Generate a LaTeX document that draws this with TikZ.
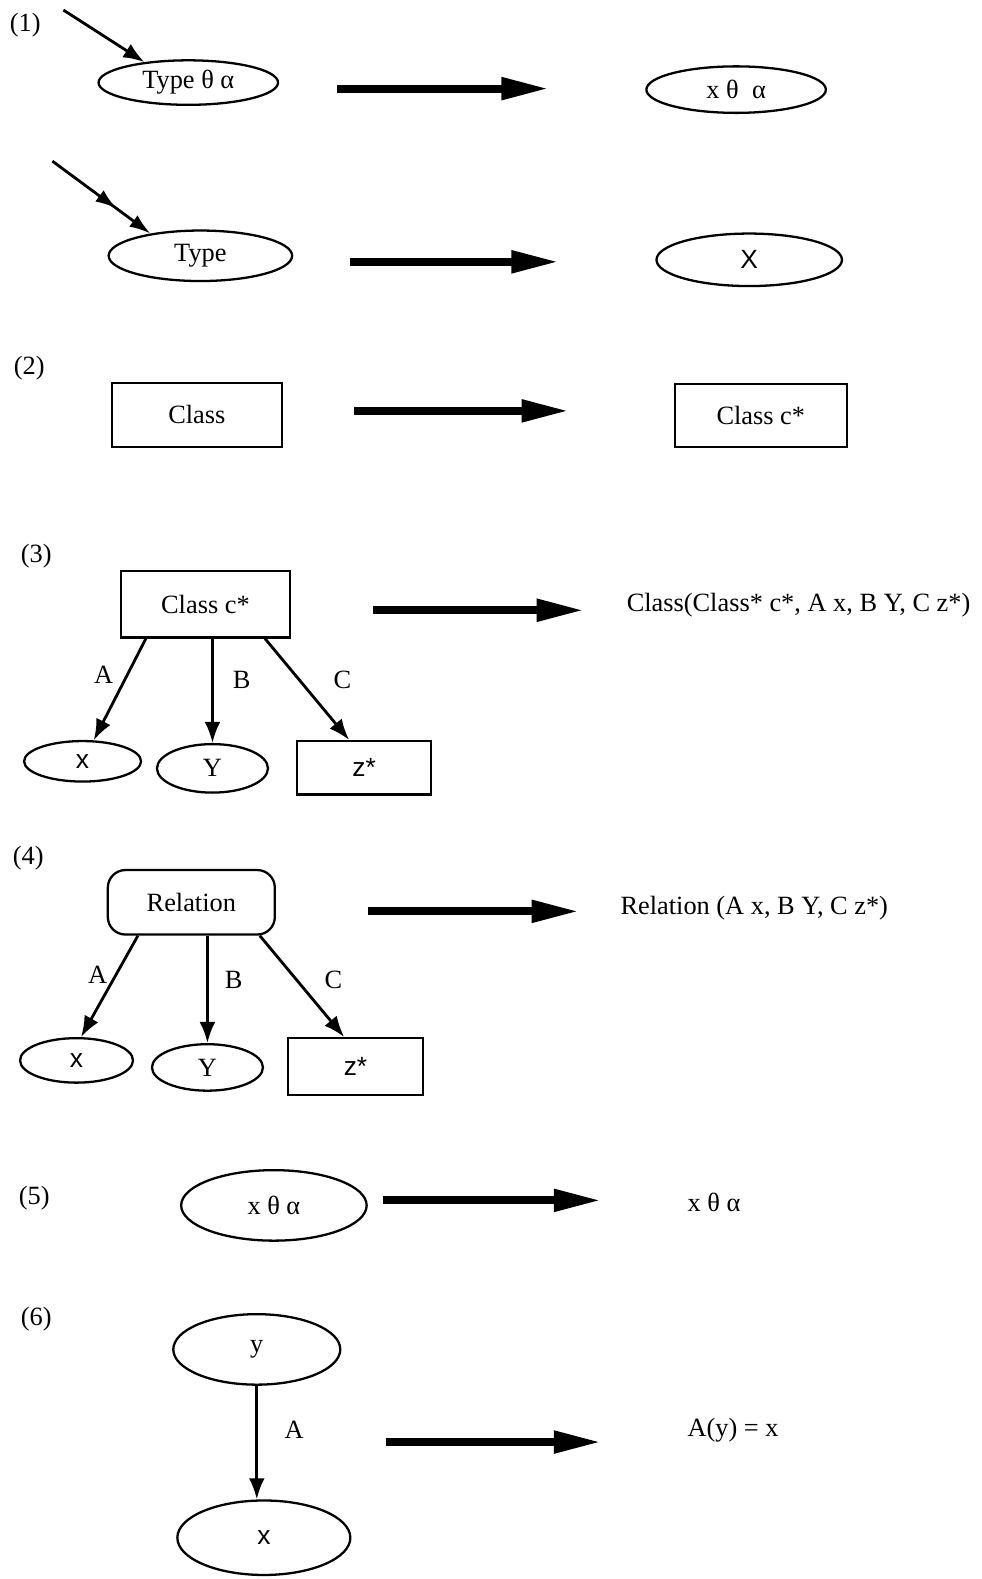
\documentclass[tikz,border=0pt]{standalone}
\usepackage{fontspec}
\setmainfont{Liberation Serif}
\setsansfont{Liberation Sans}
\usetikzlibrary{shapes.geometric,arrows.meta}

\begin{document}
\begin{tikzpicture}[x=0.02014cm, y=-0.02014cm, >={Latex[length=12pt,width=9pt]},
	font=\fontsize{15}{18}\selectfont,
	oval/.style={draw, ellipse, line width=1.3pt, inner sep=0pt},
	box/.style={draw, rectangle, line width=1.3pt, inner sep=0pt},
	roundbox/.style={box, rounded corners=10pt},
	bigarrow/.style={line width=4.5pt, -{Triangle[length=27pt,width=12pt]}},
	link/.style={line width=1.6pt, ->}]
	\useasboundingbox (0,0) rectangle (975,1568);
	% (1)
	\node (lab1) at (25,25) {(1)};
	\node[oval, minimum width=3.59cm, minimum height=0.89cm] (type1) at (187,82) {Type θ α};
	\node[oval, minimum width=3.59cm, minimum height=0.93cm] (xta1) at (731,89) {x θ\ \ α};
	\node[oval, minimum width=3.67cm, minimum height=1.01cm] (type2) at (199,254) {Type};
	\node[oval, minimum width=3.71cm, minimum height=1.05cm] (X2) at (744,258) {\sffamily X};
	\coordinate (in1) at (63,10);
	\coordinate (in2) at (52,160);
	\draw[link] (in1) -- (type1.155);
	\draw[line width=1.6pt, -{Latex[length=12pt,width=8pt,sep=12pt]Latex[length=12pt,width=8pt]}] (in2) -- (type2.156);
	\coordinate (s1) at (335,88); \coordinate (e1) at (545,88);
	\coordinate (s2) at (348,260); \coordinate (e2) at (555,260);
	\draw[bigarrow] (s1) -- (e1);
	\draw[bigarrow] (s2) -- (e2);
	% (2)
	\node (lab2) at (29,366) {(2)};
	\node[box, minimum width=3.40cm, minimum height=1.29cm] (cls2) at (195.5,412) {Class};
	\node[box, minimum width=3.44cm, minimum height=1.27cm] (clsc2) at (755.5,412.5) {Class c*};
	\coordinate (s3) at (352,408); \coordinate (e3) at (565,408);
	\draw[bigarrow] (s3) -- (e3);
	% (3)
	\node (lab3) at (36,552) {(3)};
	\node[box, minimum width=3.38cm, minimum height=1.33cm] (cls3) at (204,600) {Class c*};
	\node[oval, minimum width=2.34cm, minimum height=0.81cm] (x3) at (82,756) {\sffamily x};
	\node[oval, minimum width=2.22cm, minimum height=0.97cm] (y3) at (211,763) {Y};
	\node[box, minimum width=2.68cm, minimum height=1.07cm] (z3) at (361.5,762.5) {\sffamily z*};
	\node (out3) at (793,601) {Class(Class* c*, A x, B Y, C z*)};
	\draw[link] (cls3.-150) -- (x3.62);
	\draw[link] (cls3.south -| y3.north) -- (y3.north);
	\draw[link] (cls3.-30) -- (z3.118);
	\node (a3) at (103,670) {A};
	\node (b3) at (240,675) {B};
	\node (c3) at (340,675) {C};
	\coordinate (s4) at (370,606); \coordinate (e4) at (580,606);
	\draw[bigarrow] (s4) -- (e4);
	% (4)
	\node (lab4) at (28,852) {(4)};
	\node[roundbox, minimum width=3.34cm, minimum height=1.29cm] (rel4) at (190,896) {Relation};
	\node[oval, minimum width=2.26cm, minimum height=0.89cm] (x4) at (76,1053) {\sffamily x};
	\node[oval, minimum width=2.22cm, minimum height=0.93cm] (y4) at (206,1060) {Y};
	\node[box, minimum width=2.70cm, minimum height=1.13cm] (z4) at (353,1059) {\sffamily z*};
	\node (out4) at (749,902) {Relation (A x, B Y, C z*)};
	\draw[link] (rel4.-148) -- (x4.79);
	\draw[link] (rel4.south -| y4.north) -- (y4.north);
	\draw[link] (rel4.-26) -- (z4.111);
	\node (a4) at (97,968) {A};
	\node (b4) at (232,973) {B};
	\node (c4) at (331,973) {C};
	\coordinate (s5) at (365,905); \coordinate (e5) at (575,905);
	\draw[bigarrow] (s5) -- (e5);
	% (5)
	\node (lab5) at (34,1190) {(5)};
	\node[oval, minimum width=3.71cm, minimum height=1.41cm] (xta5) at (272,1197) {x θ\ α};
	\node (out5) at (709,1194) {x θ\ α};
	\coordinate (s6) at (380,1192); \coordinate (e6) at (597,1192);
	\draw[bigarrow] (s6) -- (e6);
	% (6)
	\node (lab6) at (36,1310) {(6)};
	\node[oval, minimum width=3.34cm, minimum height=1.41cm] (y6) at (255,1340) {y};
	\node[oval, minimum width=3.46cm, minimum height=1.49cm] (x6) at (262,1527) {\sffamily x};
	\node (out6) at (728,1420) {A(y) = x};
	\draw[link] (y6.south) -- (y6.south |- x6.north);
	\node (a6) at (292,1420) {A};
	\coordinate (s7) at (383,1432); \coordinate (e7) at (597,1432);
	\draw[bigarrow] (s7) -- (e7);
\end{tikzpicture}
\end{document}
